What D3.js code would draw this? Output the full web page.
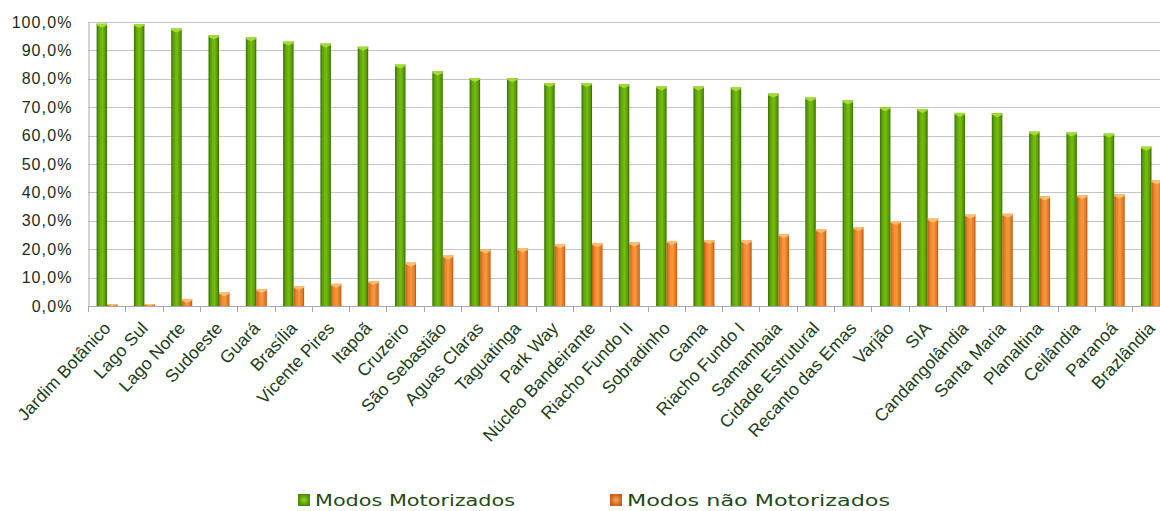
<!DOCTYPE html>
<html>
<head>
<meta charset="utf-8">
<script src="https://cdn.jsdelivr.net/npm/d3@7"></script>
<style>
  html, body { margin: 0; padding: 0; background: #fff; }
  svg { display: block; }
</style>
</head>
<body>
<svg id="chart" width="1160" height="511"></svg>
<script>
// Modal split by administrative region (share of trips)
const regions = [
  "Jardim Botânico", "Lago Sul", "Lago Norte", "Sudoeste", "Guará", "Brasília",
  "Vicente Pires", "Itapoã", "Cruzeiro", "São Sebastião", "Aguas Claras",
  "Taguatinga", "Park Way", "Núcleo Bandeirante", "Riacho Fundo II", "Sobradinho",
  "Gama", "Riacho Fundo I", "Samambaia", "Cidade Estrutural", "Recanto das Emas",
  "Varjão", "SIA", "Candangolândia", "Santa Maria", "Planaltina", "Ceilândia",
  "Paranoá", "Brazlândia"
];
const motorizados = [
  99.4, 99.3, 97.7, 95.3, 94.6, 93.1, 92.4, 91.3, 85.0, 82.6, 80.3,
  80.2, 78.5, 78.5, 78.1, 77.3, 77.3, 77.0, 74.8, 73.4, 72.4,
  70.0, 69.4, 68.0, 67.9, 61.4, 61.1, 60.7, 56.1
];
const naoMotorizados = [
  0.6, 0.7, 2.5, 4.8, 6.0, 7.0, 7.8, 8.8, 15.3, 17.8, 19.9,
  20.3, 21.7, 22.1, 22.4, 22.9, 23.2, 23.1, 25.3, 27.1, 27.8,
  29.9, 30.8, 32.2, 32.5, 38.6, 39.0, 39.3, 44.2
];
const seriesNames = ["Modos Motorizados", "Modos não Motorizados"];
const yTicks = [0, 10, 20, 30, 40, 50, 60, 70, 80, 90, 100];

const svg = d3.select("#chart");
const plotLeft = 88, plotTop = 22, plotBottom = 306, step = 37.3;
const labelFont = "'Liberation Sans', Arial, sans-serif";

const x = d3.scaleBand().domain(regions).range([plotLeft, plotLeft + step * regions.length]).padding(0);
const xs = d3.scaleBand().domain([0, 1]).range([8.6, 29.6]).padding(0);
const y = d3.scaleLinear().domain([0, 100]).range([plotBottom, plotTop]);

// Gradients for the cylinder-like bars
const defs = svg.append("defs");
function hGrad(id, stops) {
  const g = defs.append("linearGradient").attr("id", id)
    .attr("x1", "0%").attr("x2", "100%").attr("y1", "0%").attr("y2", "0%");
  stops.forEach(([o, c]) => g.append("stop").attr("offset", o).attr("stop-color", c));
}
hGrad("gGreen", [["0%", "#3a7205"], ["25%", "#62a60a"], ["55%", "#76be0e"], ["85%", "#569606"], ["100%", "#356a04"]]);
hGrad("gOrange", [["0%", "#c45a14"], ["25%", "#ec852c"], ["55%", "#f69a42"], ["85%", "#e27620"], ["100%", "#be5612"]]);
const capColors = ["#a8e03a", "#ffc27a"];
const fills = ["url(#gGreen)", "url(#gOrange)"];

// Legend-square gradients
function rGrad(id, inner, outer) {
  const g = defs.append("radialGradient").attr("id", id);
  g.append("stop").attr("offset", "0%").attr("stop-color", inner);
  g.append("stop").attr("offset", "100%").attr("stop-color", outer);
}
rGrad("lGreen", "#8fd62a", "#4c8c06");
rGrad("lOrange", "#f7a85a", "#c9601a");

// Gridlines
svg.append("g").selectAll("line").data(yTicks.filter(t => t > 0)).join("line")
  .attr("x1", plotLeft).attr("x2", 1160)
  .attr("y1", d => Math.round(y(d)) + 0.5).attr("y2", d => Math.round(y(d)) + 0.5)
  .attr("stroke", "#c4c4c4").attr("stroke-width", 1);

// Y axis
const yAxis = svg.append("g").attr("transform", `translate(${plotLeft + 0.5},0)`)
  .call(d3.axisLeft(y).tickValues(yTicks).tickSize(0).tickPadding(16)
    .tickFormat(d => d3.format(".1f")(d).replace(".", ",") + "%"));
yAxis.select(".domain").attr("stroke", "#a8a8a8");
yAxis.selectAll("text")
  .style("font-family", labelFont)
  .style("font-size", "16px").style("letter-spacing", "1.1px")
  .attr("fill", "#222d1c");

// Bars
const rows = regions.map((r, i) => ({ r, v: [motorizados[i], naoMotorizados[i]] }));
const groups = svg.append("g").selectAll("g").data(rows).join("g")
  .attr("transform", d => `translate(${x(d.r)},0)`);
groups.each(function(d) {
  const g = d3.select(this);
  d.v.forEach((v, s) => {
    const bx = xs(s), bw = xs.bandwidth();
    const yt = y(v);
    g.append("rect").attr("x", bx).attr("y", yt).attr("width", bw)
      .attr("height", plotBottom - yt).attr("fill", fills[s]);
    // light top face with a small downward bevel
    const ch = Math.min(4, plotBottom - yt);
    g.append("path")
      .attr("d", `M${bx},${yt} L${bx + bw},${yt} L${bx + bw},${yt + ch * 0.4} L${bx + bw / 2},${yt + ch} L${bx},${yt + ch * 0.4} Z`)
      .attr("fill", capColors[s]).attr("opacity", 0.9);
  });
});

// X axis line and ticks at band boundaries
svg.append("line").attr("x1", plotLeft).attr("x2", 1160)
  .attr("y1", plotBottom + 0.5).attr("y2", plotBottom + 0.5).attr("stroke", "#a8a8a8");
svg.append("g").selectAll("line").data(regions).join("line")
  .attr("x1", d => Math.round(x(d)) + 0.5).attr("x2", d => Math.round(x(d)) + 0.5)
  .attr("y1", plotBottom).attr("y2", plotBottom + 6).attr("stroke", "#a8a8a8");

// Category labels
svg.append("g").selectAll("text").data(regions).join("text")
  .attr("transform", d => `translate(${x(d) + x.bandwidth() / 2 + 5},${plotBottom + 23}) rotate(-47)`)
  .attr("text-anchor", "end")
  .style("font-family", labelFont)
  .style("font-size", "17.5px").style("letter-spacing", "0.1px")
  .attr("fill", "#203c1a")
  .text(d => d);

// Legend
const legend = svg.append("g");
const legendX = [298, 610];
const legendW = [200, 263];
seriesNames.forEach((n, i) => {
  legend.append("rect").attr("x", legendX[i]).attr("y", 494).attr("width", 12).attr("height", 12)
    .attr("fill", i === 0 ? "url(#lGreen)" : "url(#lOrange)");
  legend.append("text").attr("x", legendX[i] + 17).attr("y", 506)
    .style("font-family", "'DejaVu Sans', sans-serif").style("font-size", "16px")
    .attr("textLength", legendW[i]).attr("lengthAdjust", "spacingAndGlyphs")
    .attr("fill", "#1e4a14").text(n);
});
</script>
</body>
</html>
